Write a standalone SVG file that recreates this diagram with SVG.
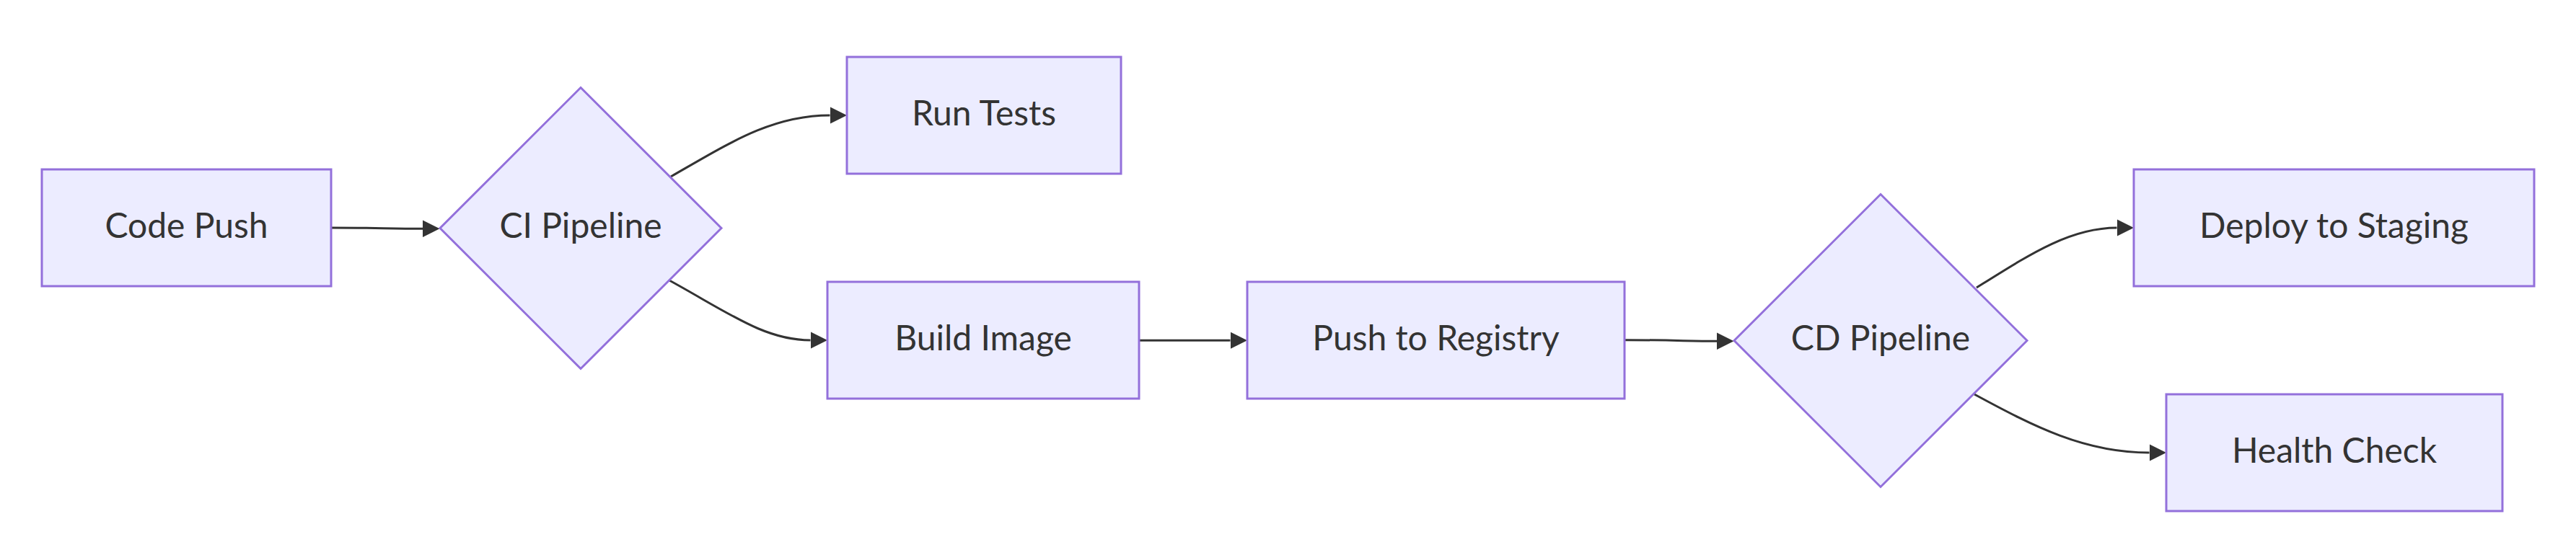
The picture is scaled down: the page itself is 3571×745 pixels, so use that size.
<svg xmlns="http://www.w3.org/2000/svg" width="3571" height="745" viewBox="0 0 3571 745">
<style>
.node rect, .node polygon { fill: #ECECFF; stroke: #9370DB; stroke-width: 3; }
.node text { font-family: "Trebuchet MS", Lato, "Liberation Sans", sans-serif; font-size: 48px; fill: #333333; text-anchor: middle; }
.edge { fill: none; stroke: #333333; stroke-width: 3; marker-end: url(#arrow); }
</style>
<defs>
<marker id="arrow" viewBox="0 0 10 10" refX="0" refY="5" markerUnits="userSpaceOnUse" markerWidth="23.5" markerHeight="24" orient="auto">
<path d="M0,0 L10,5 L0,10 z" fill="#333333"/>
</marker>
</defs>
<rect width="3571" height="745" fill="#ffffff"/>
<g id="connectors">
<path class="edge" d="M459,316 C520,316 540,317.3 586,317.3"/>
<path class="edge" d="M930,245 C1012,198 1070,160 1150.5,160"/>
<path class="edge" d="M928,389 C1010,434 1060,472 1123.5,472"/>
<path class="edge" d="M1580,472.3 L1705.5,472.3"/>
<path class="edge" d="M2253,471.7 C2320,471.7 2340,473.3 2380,473.3"/>
<path class="edge" d="M2740,399 C2815,352 2870,316 2934.5,316"/>
<path class="edge" d="M2737,547 C2820,592 2890,628 2979.5,628"/>
</g>
<g id="node-code-push" class="node">
<rect x="58" y="235" width="401" height="162"/>
<text x="258.5" y="330">Code Push</text>
</g>
<g id="node-ci-pipeline" class="node">
<polygon points="805,121.5 1000,316.5 805,511.5 610,316.5"/>
<text x="805" y="330">CI Pipeline</text>
</g>
<g id="node-run-tests" class="node">
<rect x="1174" y="79" width="380" height="162"/>
<text x="1364" y="174">Run Tests</text>
</g>
<g id="node-build-image" class="node">
<rect x="1147" y="391" width="432" height="162"/>
<text x="1363" y="486">Build Image</text>
</g>
<g id="node-push-registry" class="node">
<rect x="1729" y="391" width="523" height="162"/>
<text x="1990.5" y="486">Push to Registry</text>
</g>
<g id="node-cd-pipeline" class="node">
<polygon points="2607,269.5 2810,472.5 2607,675.5 2404,472.5"/>
<text x="2607" y="486">CD Pipeline</text>
</g>
<g id="node-deploy-staging" class="node">
<rect x="2958" y="235" width="555" height="162"/>
<text x="3235.5" y="330">Deploy to Staging</text>
</g>
<g id="node-health-check" class="node">
<rect x="3003" y="547" width="466" height="162"/>
<text x="3236" y="642">Health Check</text>
</g>
</svg>
